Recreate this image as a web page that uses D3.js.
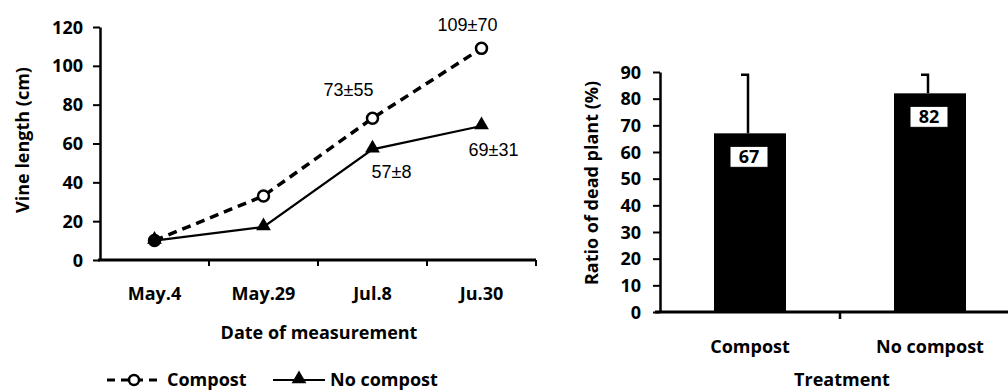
<!DOCTYPE html>
<html>
<head>
<meta charset="utf-8">
<script src="https://cdn.jsdelivr.net/npm/d3@7"></script>
<style>
  body { margin: 0; background: #fff; }
  svg { display: block; }
  .bold { font-family: "Open Sans", sans-serif; font-weight: 700; }
  .plain { font-family: "Liberation Sans", Arial, sans-serif; }
</style>
</head>
<body>
<svg id="chart" width="1008" height="392"></svg>
<script>
// Left panel: vine length by date
var DATES = ["May.4", "May.29", "Jul.8", "Ju.30"];
var COMPOST_LEN = [10, 33, 73, 109];
var NOCOMPOST_LEN = [10, 17, 57, 69];
var COMPOST_LABELS = [null, null, "73±55", "109±70"];
var NOCOMPOST_LABELS = [null, null, "57±8", "69±31"];
var LEN_TICKS = [0, 20, 40, 60, 80, 100, 120];

// Right panel: ratio of dead plants
var TREATMENTS = ["Compost", "No compost"];
var DEAD_RATIO = [67, 82];
var DEAD_ERR = [22, 7];
var RATIO_TICKS = [0, 10, 20, 30, 40, 50, 60, 70, 80, 90];

var FS = 18;
var svg = d3.select("#chart");

/*
 * Left chart
 */
var lx = d3.scaleBand().domain(DATES).range([100, 536]);
var ly = d3.scaleLinear().domain([0, 120]).range([260, 27]);
var L = svg.append("g");

// y axis
L.append("g")
  .attr("transform", "translate(100,0)")
  .call(d3.axisLeft(ly).tickValues(LEN_TICKS).tickSize(7).tickSizeOuter(0))
  .call(function (g) {
    g.select(".domain").attr("stroke-width", 2.5);
    g.selectAll(".tick line").attr("stroke-width", 2);
    g.selectAll("text").attr("class", "bold").attr("font-size", FS)
      .attr("fill", "#000").attr("x", -17).attr("dy", "0.34em");
  });

// x axis with ticks at band edges
L.append("line")
  .attr("x1", 98).attr("x2", 536)
  .attr("y1", ly(0)).attr("y2", ly(0))
  .attr("stroke", "#000").attr("stroke-width", 3);
DATES.forEach(function (d) {
  L.append("line")
    .attr("x1", lx(d) + lx.bandwidth()).attr("x2", lx(d) + lx.bandwidth())
    .attr("y1", ly(0)).attr("y2", ly(0) + 6)
    .attr("stroke", "#000").attr("stroke-width", 2);
  L.append("text")
    .attr("class", "bold").attr("font-size", FS)
    .attr("x", lx(d) + lx.bandwidth() / 2).attr("y", 300)
    .attr("text-anchor", "middle")
    .text(d);
});

L.append("text")
  .attr("class", "bold").attr("font-size", FS)
  .attr("x", 319).attr("y", 339)
  .attr("text-anchor", "middle")
  .text("Date of measurement");

L.append("text")
  .attr("class", "bold").attr("font-size", FS)
  .attr("transform", "translate(29,140) rotate(-90)")
  .attr("text-anchor", "middle")
  .text("Vine length (cm)");

var cx = function (d, i) { return lx(DATES[i]) + lx.bandwidth() / 2; };
var line = d3.line().x(function (d, i) { return cx(d, i); }).y(function (d) { return ly(d); });

L.append("path").datum(COMPOST_LEN)
  .attr("d", line).attr("fill", "none")
  .attr("stroke", "#000").attr("stroke-width", 3.5)
  .attr("stroke-dasharray", "9,6");
L.append("path").datum(NOCOMPOST_LEN)
  .attr("d", line).attr("fill", "none")
  .attr("stroke", "#000").attr("stroke-width", 2.2);

var tri = d3.symbol().type(d3.symbolTriangle).size(95);
L.selectAll(".tri").data(NOCOMPOST_LEN).enter().append("path")
  .attr("d", tri)
  .attr("transform", function (d, i) { return "translate(" + cx(d, i) + "," + (ly(d) - 1) + ")"; })
  .attr("fill", "#000");
L.selectAll(".circ").data(COMPOST_LEN).enter().append("circle")
  .attr("cx", cx).attr("cy", function (d) { return ly(d); })
  .attr("r", 5.5)
  .attr("fill", function (d, i) { return i === 0 ? "#000" : "#fff"; })
  .attr("stroke", "#000").attr("stroke-width", 2.5);

// value labels
var LBL_OFF_C = [null, null, [-24, -22], [-14, -17]];
var LBL_OFF_N = [null, null, [19, 17], [12, 18]];
COMPOST_LEN.forEach(function (d, i) {
  if (!COMPOST_LABELS[i]) return;
  L.append("text").attr("class", "plain").attr("font-size", 18)
    .attr("x", cx(d, i) + LBL_OFF_C[i][0]).attr("y", ly(d) + LBL_OFF_C[i][1])
    .attr("text-anchor", "middle").text(COMPOST_LABELS[i]);
});
NOCOMPOST_LEN.forEach(function (d, i) {
  if (!NOCOMPOST_LABELS[i]) return;
  L.append("text").attr("class", "plain").attr("font-size", 18)
    .attr("x", cx(d, i) + LBL_OFF_N[i][0]).attr("y", ly(d) + LBL_OFF_N[i][1] + 12)
    .attr("text-anchor", "middle").text(NOCOMPOST_LABELS[i]);
});

// legend
var leg = L.append("g").attr("transform", "translate(0,386)");
leg.append("line").attr("x1", 107).attr("x2", 163).attr("y1", -6).attr("y2", -6)
  .attr("stroke", "#000").attr("stroke-width", 3).attr("stroke-dasharray", "8,6");
leg.append("circle").attr("cx", 134).attr("cy", -6).attr("r", 5)
  .attr("fill", "#fff").attr("stroke", "#000").attr("stroke-width", 2.5);
leg.append("text").attr("class", "bold").attr("font-size", FS)
  .attr("x", 167).attr("y", 0).text("Compost");
leg.append("line").attr("x1", 273).attr("x2", 325).attr("y1", -6).attr("y2", -6)
  .attr("stroke", "#000").attr("stroke-width", 2.2);
leg.append("path").attr("d", tri).attr("transform", "translate(299,-7)").attr("fill", "#000");
leg.append("text").attr("class", "bold").attr("font-size", FS)
  .attr("x", 330).attr("y", 0).text("No compost");

/*
 * Right chart
 */
var rx = d3.scaleBand().domain(TREATMENTS).range([660, 1020]).paddingInner(0).paddingOuter(0);
var ry = d3.scaleLinear().domain([0, 90]).range([312, 72]);
var R = svg.append("g");
var barW = rx.bandwidth() * 0.4;

R.append("g")
  .attr("transform", "translate(660,0)")
  .call(d3.axisLeft(ry).tickValues(RATIO_TICKS).tickSize(7).tickSizeOuter(0))
  .call(function (g) {
    g.select(".domain").attr("stroke-width", 2.5);
    g.selectAll(".tick line").attr("stroke-width", 2);
    g.selectAll("text").attr("class", "bold").attr("font-size", FS)
      .attr("fill", "#000").attr("x", -19).attr("dy", "0.34em");
  });

var bcx = function (d) { return rx(d) + rx.bandwidth() / 2; };

R.selectAll(".err").data(TREATMENTS).enter().append("path")
  .attr("d", function (d, i) {
    var x = bcx(d) - 2;
    var top = ry(DEAD_RATIO[i] + DEAD_ERR[i]);
    return "M" + x + "," + ry(DEAD_RATIO[i]) + "V" + top + "H" + (x - 7);
  })
  .attr("fill", "none").attr("stroke", "#000").attr("stroke-width", 2.5);

R.selectAll(".bar").data(TREATMENTS).enter().append("rect")
  .attr("x", function (d) { return bcx(d) - barW / 2; })
  .attr("width", barW)
  .attr("y", function (d, i) { return ry(DEAD_RATIO[i]); })
  .attr("height", function (d, i) { return ry(0) - ry(DEAD_RATIO[i]); })
  .attr("fill", "#000");

TREATMENTS.forEach(function (d, i) {
  var yTop = ry(DEAD_RATIO[i]);
  R.append("rect")
    .attr("x", bcx(d) - 20).attr("y", yTop + 13)
    .attr("width", 38).attr("height", 21)
    .attr("fill", "#fff").attr("stroke", "#000").attr("stroke-width", 1);
  R.append("text").attr("class", "bold").attr("font-size", FS)
    .attr("x", bcx(d) - 1).attr("y", yTop + 30)
    .attr("text-anchor", "middle").text(DEAD_RATIO[i]);
  R.append("text").attr("class", "bold").attr("font-size", FS)
    .attr("x", bcx(d)).attr("y", 353)
    .attr("text-anchor", "middle").text(d);
});

R.append("line")
  .attr("x1", 655).attr("x2", 1008)
  .attr("y1", ry(0)).attr("y2", ry(0))
  .attr("stroke", "#000").attr("stroke-width", 3);
R.append("line")
  .attr("x1", rx(TREATMENTS[1])).attr("x2", rx(TREATMENTS[1]))
  .attr("y1", ry(0)).attr("y2", ry(0) + 7)
  .attr("stroke", "#000").attr("stroke-width", 2.5);

R.append("text").attr("class", "bold").attr("font-size", FS)
  .attr("x", 842).attr("y", 386)
  .attr("text-anchor", "middle").text("Treatment");

R.append("text").attr("class", "bold").attr("font-size", FS)
  .attr("transform", "translate(598,183) rotate(-90)")
  .attr("text-anchor", "middle")
  .text("Ratio of dead plant (%)");
</script>
</body>
</html>
